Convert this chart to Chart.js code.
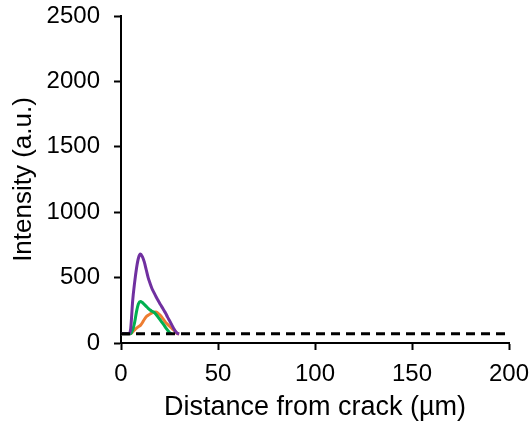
<!DOCTYPE html>
<html>
<head>
<meta charset="utf-8">
<script src="https://cdn.jsdelivr.net/npm/chart.js@4/dist/chart.umd.min.js"></script>
<style>
  html, body { margin: 0; padding: 0; background: #fff; }
  #wrap { width: 531px; height: 428px; }
</style>
</head>
<body>
<div id="wrap"><canvas id="grafica" width="531" height="428"></canvas></div>
<script>
// Distancia desde la grieta (µm)
const distancias = [0, 1, 2, 3, 4, 5, 6, 7, 8, 9, 10, 11, 12, 13, 14, 15, 16, 17, 18, 19, 20, 21, 22, 23, 24, 25, 26, 27, 28, 29, 30];

// Intensidades (a.u.)
const morado = [70, 70, 70, 70, 70, 110, 320, 460, 572, 650, 680, 660, 620, 560, 500, 455, 415, 385, 355, 328, 302, 278, 252, 228, 198, 172, 143, 115, 90, 74, 70];
const verde = [70, 70, 70, 70, 70, 72, 100, 155, 240, 300, 318, 310, 295, 280, 265, 252, 243, 235, 220, 200, 180, 160, 140, 118, 98, 80, 70, null, null, null, null];
const naranja = [70, 70, 70, 70, 70, 72, 85, 100, 114, 125, 135, 155, 180, 200, 212, 222, 230, 236, 237, 228, 216, 198, 178, 158, 142, 128, 115, 102, 88, 72, 70];

// Línea de fondo discontinua
const fondoX = [0, 200];
const fondoY = [70, 70];

const ticksX = [0, 50, 100, 150, 200];
const ticksY = [0, 500, 1000, 1500, 2000, 2500];

function puntos(xs, ys) {
    return xs.map((x, i) => ({ x: x, y: ys[i] }));
}

const familia = 'Arial, "Liberation Sans", sans-serif';
const fuenteTicks = { family: familia, size: 24 };

// Quita el relleno automático que Chart.js añade por las etiquetas de los extremos
function sinRelleno(scale) {
    scale.paddingTop = 0;
    scale.paddingBottom = 0;
    scale.paddingLeft = 0;
    scale.paddingRight = 0;
}

const ctx = document.getElementById('grafica').getContext('2d');

new Chart(ctx, {
    type: 'line',
    data: {
        datasets: [
            { label: 'Fondo', data: puntos(fondoX, fondoY), borderColor: '#000000', borderWidth: 3, borderDash: [9, 6], pointRadius: 0, order: 0 },
            { label: 'Naranja', data: puntos(distancias, naranja), borderColor: '#ED7D31', borderWidth: 3, pointRadius: 0, cubicInterpolationMode: 'monotone', order: 3 },
            { label: 'Verde', data: puntos(distancias, verde), borderColor: '#00B050', borderWidth: 3, pointRadius: 0, cubicInterpolationMode: 'monotone', order: 2 },
            { label: 'Morado', data: puntos(distancias, morado), borderColor: '#7030A0', borderWidth: 3, pointRadius: 0, cubicInterpolationMode: 'monotone', order: 1 }
        ]
    },
    options: {
        responsive: false,
        animation: false,
        layout: { padding: { top: 16, right: 22, left: 0, bottom: 0 } },
        plugins: { legend: { display: false }, tooltip: { enabled: false } },
        scales: {
            x: {
                type: 'linear',
                min: 0,
                max: 200,
                afterBuildTicks: (scale) => { scale.ticks = ticksX.map(v => ({ value: v })); },
                afterFit: (scale) => { scale.height = 85; sinRelleno(scale); },
                grid: { display: true, drawOnChartArea: false, drawTicks: true, tickLength: 7, tickColor: '#000', tickWidth: 2 },
                border: { display: true, color: '#000', width: 2 },
                ticks: { color: '#000', font: fuenteTicks, padding: 10, maxRotation: 0, callback: (v) => String(v) },
                title: { display: true, text: 'Distance from crack (µm)', color: '#000', font: { family: familia, size: 27 }, padding: { top: 0, bottom: 4 } }
            },
            y: {
                type: 'linear',
                min: 0,
                max: 2500,
                afterBuildTicks: (scale) => { scale.ticks = ticksY.map(v => ({ value: v })); },
                afterFit: (scale) => { scale.width = 121; sinRelleno(scale); },
                grid: { display: true, drawOnChartArea: false, drawTicks: true, tickLength: 7, tickColor: '#000', tickWidth: 2 },
                border: { display: true, color: '#000', width: 2 },
                ticks: { color: '#000', font: fuenteTicks, padding: 14, callback: (v) => String(v) },
                title: { display: true, text: 'Intensity (a.u.)', color: '#000', font: { family: familia, size: 26 }, padding: { top: 8, bottom: 0 } }
            }
        }
    }
});
</script>
</body>
</html>
